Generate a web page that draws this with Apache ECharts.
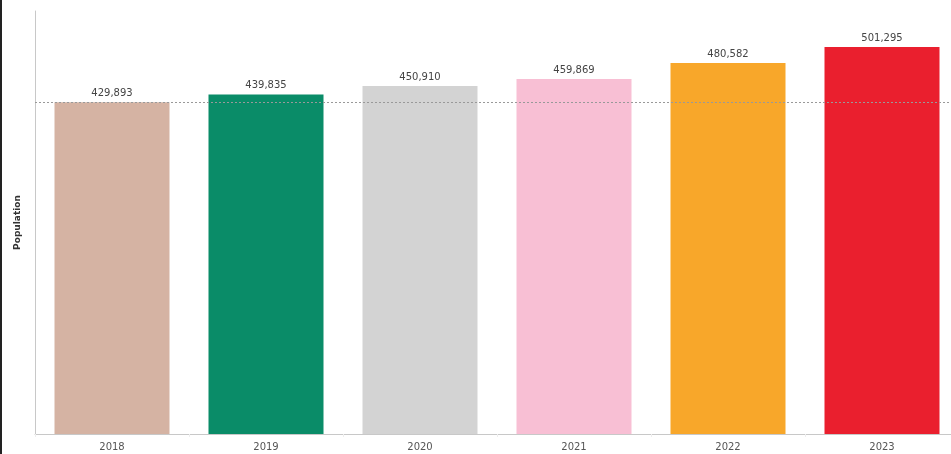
<!DOCTYPE html>
<html>
<head>
<meta charset="utf-8">
<script src="https://cdn.jsdelivr.net/npm/echarts@6/dist/echarts.min.js"></script>
<style>
  html, body { margin: 0; padding: 0; background: #fff; overflow: hidden; }
  #chart { width: 959px; height: 454px; }
</style>
</head>
<body>
<div id="chart"></div>
<script>
// population per year
const years = ['2018', '2019', '2020', '2021', '2022', '2023']
const population = [429893, 439835, 450910, 459869, 480582, 501295]
const barColors = ['#d5b3a3', '#0a8c68', '#d3d3d3', '#f8bfd4', '#f8a72a', '#ea1f2e']
const refLine = 429893

let chart = echarts.init(document.getElementById('chart'))
let option = {
  animation: false,
  textStyle: { fontFamily: 'DejaVu Sans' },
  graphic: [{
    type: 'rect',
    shape: { x: 0, y: 0, width: 2, height: 454 },
    style: { fill: '#222' }
  }],
  // the plot runs a little past the right edge of the window, as in the original
  grid: { left: 35, right: 0, top: 11, bottom: 20, containLabel: false },
  xAxis: {
    type: 'category',
    data: years,
    axisLine: { lineStyle: { color: '#c8c8c8', width: 1 } },
    axisTick: { show: true, length: 3, lineStyle: { color: '#eee' } },
    axisLabel: { color: '#555', fontSize: 10, margin: 8 }
  },
  yAxis: {
    type: 'value',
    min: 0,
    max: 548000,
    name: 'Population',
    nameLocation: 'middle',
    nameGap: 13,
    nameRotate: 90,
    nameTextStyle: { color: '#333', fontSize: 9, fontWeight: 'bold' },
    axisLine: { show: true, lineStyle: { color: '#c8c8c8' } },
    axisTick: { show: false },
    axisLabel: { show: false },
    splitLine: { show: false }
  },
  series: [{
    type: 'bar',
    barWidth: 115,
    data: population.map((v, i) => ({ value: v, itemStyle: { color: barColors[i] } })),
    label: {
      show: true,
      position: 'top',
      distance: 4,
      color: '#444',
      fontSize: 10,
      formatter: p => p.value.toLocaleString('en-US')
    },
    markLine: {
      silent: true,
      symbol: 'none',
      label: { show: false },
      lineStyle: { color: '#999', type: [2, 2], width: 1 },
      data: [{ yAxis: refLine }]
    }
  }]
}
chart.setOption(option)
</script>
</body>
</html>
